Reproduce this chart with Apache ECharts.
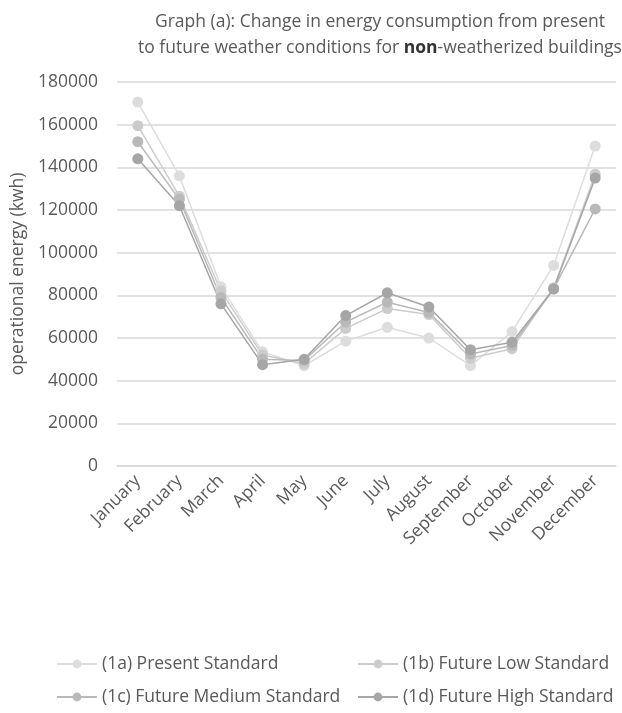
<!DOCTYPE html>
<html>
<head>
<meta charset="utf-8">
<script src="https://cdn.jsdelivr.net/npm/echarts@6/dist/echarts.min.js"></script>
<style>html,body{margin:0;padding:0;background:#fff}#c{width:622px;height:713px}</style>
</head>
<body>
<div id="c"></div>
<script>
const months = ['January','February','March','April','May','June','July','August','September','October','November','December'];
const seriesNames = ['(1a) Present Standard','(1b) Future Low Standard','(1c) Future Medium Standard','(1d) Future High Standard'];
const presentStd = [170600,136000,84000,53500,47000,58500,65000,60000,47000,63000,94000,150000];
const futureLow  = [159500,126500,82000,52000,48000,64500,73800,71000,50500,55000,83500,136800];
const futureMed  = [152000,125000,79000,50000,49500,67500,76800,72000,52500,56500,83000,120500];
const futureHigh = [144000,122000,76000,47500,50000,70500,81200,74500,54500,58000,83000,135000];
const yTicks = [0,20000,40000,60000,80000,100000,120000,140000,160000,180000];
const colors = ['#dddddd','#cccccc','#b9b9b9','#a6a6a6'];
const values = [presentStd, futureLow, futureMed, futureHigh];
const FONT = 'Open Sans';
const TXT = '#595959';
const FS = 17.5;

const chart = echarts.init(document.getElementById('c'), null, {renderer:'canvas'});
const legendPos = [[56,655],[357,655],[56,688],[357,688]];
chart.setOption({
  animation:false,
  backgroundColor:'#fff',
  title:{
    text:'Graph (a): Change in energy consumption from present\nto future weather conditions for {b|non}-weatherized buildings',
    left:375, top:4, textAlign:'center',
    textStyle:{fontFamily:FONT,fontSize:FS,fontWeight:'normal',color:TXT,lineHeight:26,
      rich:{b:{fontFamily:FONT,fontSize:FS,fontWeight:'bold',color:'#333',lineHeight:26}}}
  },
  legend: seriesNames.map((n,i)=>({
    data:[n], left:legendPos[i][0], top:legendPos[i][1], itemWidth:40, itemHeight:11,
    textStyle:{fontFamily:FONT,fontSize:FS,color:TXT}, itemGap:0, padding:0
  })),
  grid:{left:117, right:6, top:82, bottom:247, containLabel:false},
  xAxis:{
    type:'category', data:months, boundaryGap:true,
    axisLine:{lineStyle:{color:'#d9d9d9',width:1.5}}, axisTick:{show:false},
    axisLabel:{rotate:45, interval:0, fontFamily:FONT, fontSize:FS, color:TXT, margin:12}
  },
  yAxis:{
    type:'value', min:0, max:180000, interval:20000,
    name:'operational energy (kwh)', nameLocation:'middle', nameGap:88, nameRotate:90,
    nameTextStyle:{fontFamily:FONT,fontSize:FS,color:TXT},
    axisLine:{show:false}, axisTick:{show:false},
    splitLine:{lineStyle:{color:'#d9d9d9',width:1.5}},
    axisLabel:{fontFamily:FONT,fontSize:FS,color:TXT,margin:19,
      formatter:v=>yTicks.includes(v)?String(v):''}
  },
  series: values.map((d,i)=>({
    name:seriesNames[i], type:'line', data:d, symbol:'circle', symbolSize:11,
    itemStyle:{color:colors[i]}, lineStyle:{color:colors[i],width:1.5}
  }))
});
</script>
</body>
</html>
